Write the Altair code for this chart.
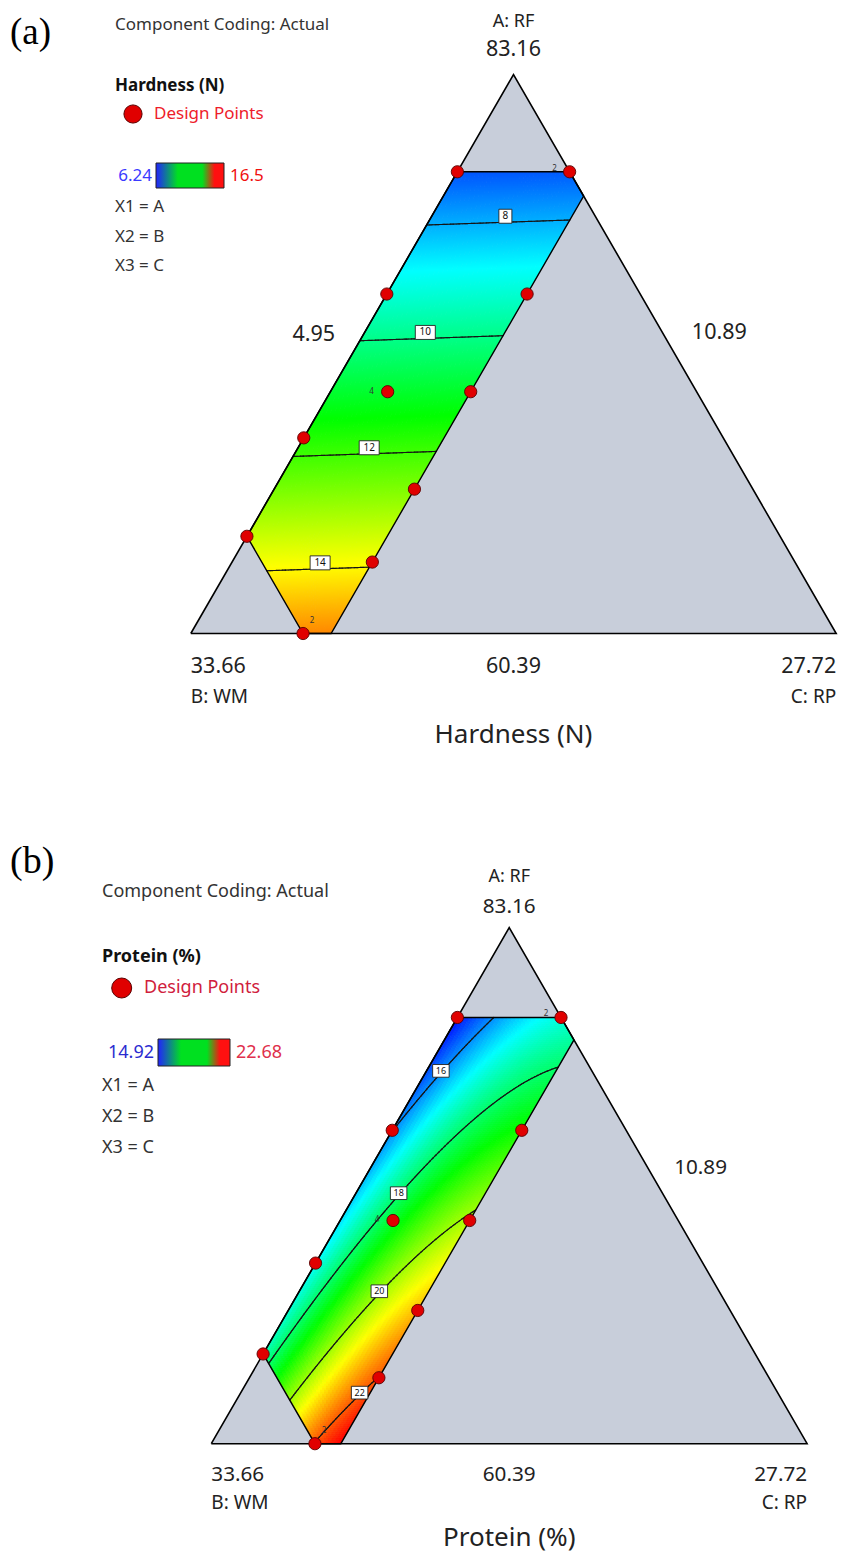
import numpy as np
import pandas as pd
import altair as alt

# ------------------------------------------------------------------
# Mixture design: actual amounts, total = 99
TOTAL = 99.0
LOW = [60.39, 10.89, 4.95]      # A: RF, B: WM, C: RP lower bounds (triangle edges)
HIGH = [79.20, 29.70, 9.90]     # upper bounds of the constrained region
APEX_VALUES = ["83.16", "33.66", "27.72"]
EDGE_VALUES = ["4.95", "10.89", "60.39"]
COMPONENTS = ["A: RF", "B: WM", "C: RP"]

# design points (actual amounts) and replicate counts
pt_A = [79.20, 79.20, 74.22, 74.22, 70.24, 70.24, 68.36, 66.27, 64.35, 63.30, 60.39]
pt_B = [14.85, 10.89, 19.83, 14.88, 21.79, 18.86, 25.69, 22.83, 29.70, 25.80, 29.70]
pt_C = [4.95, 8.91, 4.95, 9.90, 6.97, 9.90, 4.95, 9.90, 4.95, 9.90, 8.91]
pt_reps = [1, 2, 1, 1, 4, 1, 1, 1, 1, 1, 2]

# fitted Scheffe models (pseudo components): A, B, C, AB, AC, BC
hard_coef = [5.40, 15.06, 15.46, 0.0, 0.0, 0.0]
prot_coef = [14.12, 17.85, 10.16, 1.63, 25.46, 38.51]
hard_levels = [8, 10, 12, 14]
prot_levels = [16, 18, 20, 22]
hard_range = [6.24, 16.5]
prot_range = [14.92, 22.68]
# approximate contour-label spots (ternary plane: X across, a up)
hard_lab_X = [0.487, 0.363, 0.276, 0.200]
hard_lab_a = [0.750, 0.539, 0.334, 0.128]
prot_lab_X = [0.378, 0.306, 0.273, 0.249]
prot_lab_a = [0.726, 0.490, 0.301, 0.095]

# ------------------------------------------------------------------
R = TOTAL - sum(LOW)
amax = (HIGH[0] - LOW[0]) / R
bmax = (HIGH[1] - LOW[1]) / R
cmax = (HIGH[2] - LOW[2]) / R

FONT = "Noto Sans"
W = 835
ONE = pd.DataFrame({"k": [0]})
JET = ["#0000ff", "#00ffff", "#00ff00", "#ffff00", "#ff0000"]
GREY = "#c8ceda"


def model(coef, a, b, c):
    return (coef[0] * a + coef[1] * b + coef[2] * c
            + coef[3] * a * b + coef[4] * a * c + coef[5] * b * c)


def f_Xa(coef, X, a):
    c = X - a / 2.0
    return model(coef, a, 1 - a - c, c)


def gfuncs(X, a):
    c = X - a / 2.0
    return [amax - a, a, c, cmax - c, 1 - a - c, a + c - (1 - bmax)]


def clip(p, q):
    gp = gfuncs(*p)
    gq = gfuncs(*q)
    t0, t1 = 0.0, 1.0
    for u, v in zip(gp, gq):
        if u < 0 and v < 0:
            return None
        if u < 0:
            t0 = max(t0, u / (u - v))
        elif v < 0:
            t1 = min(t1, u / (u - v))
    if t0 >= t1:
        return None
    p = np.array(p); q = np.array(q)
    return p + t0 * (q - p), p + t1 * (q - p)


def heat_cells(coef, s, field):
    h = s * np.sqrt(3) / 2
    da, dX = 2.0 / h, 4.0 / s
    ox, oa = 0.6 / s, 0.6 / h
    n = int(np.ceil(amax / da - 1e-9))
    cols = {"X": [], "X2": [], "Y": [], "Y2": [], field: []}
    for i in range(n):
        a0 = i * da
        a1 = min(amax, a0 + da)
        am = 0.5 * (a0 + a1)
        clo = max(0.0, 1 - bmax - am)
        chi = min(cmax, 1 - am)
        X0, X1 = clo + am / 2, chi + am / 2
        m = max(1, int(np.ceil((X1 - X0) / dX)))
        e = np.linspace(X0, X1, m + 1)
        xm = 0.5 * (e[:-1] + e[1:])
        vals = f_Xa(coef, xm, np.full(m, am))
        x2 = e[1:] + ox
        x2[-1] = e[-1]
        y2 = a1 + oa if i < n - 1 else a1
        cols["X"] += list(np.round(e[:-1], 5))
        cols["X2"] += list(np.round(x2, 5))
        cols["Y"] += [round(a0, 5)] * m
        cols["Y2"] += [round(y2, 5)] * m
        cols[field] += list(np.round(vals, 4))
    return pd.DataFrame(cols)


def contour_segments(coef, levels, s):
    h = s * np.sqrt(3) / 2
    step = 1.5
    Xs = np.arange(0.04, 0.66, step / s)
    As = np.arange(-0.01, amax + 0.012, step / h)
    XX, AA = np.meshgrid(Xs, As)
    F = f_Xa(coef, XX, AA)
    rows = []
    for lv in levels:
        G = F - lv
        c4 = [G[:-1, :-1], G[:-1, 1:], G[1:, 1:], G[1:, :-1]]
        mn = np.minimum.reduce(c4)
        mx = np.maximum.reduce(c4)
        for i, j in np.argwhere((mn < 0) & (mx > 0)):
            corners = [(Xs[j], As[i], G[i, j]), (Xs[j + 1], As[i], G[i, j + 1]),
                       (Xs[j + 1], As[i + 1], G[i + 1, j + 1]), (Xs[j], As[i + 1], G[i + 1, j])]
            pts = []
            for k in range(4):
                x0, y0, g0 = corners[k]
                x1, y1, g1 = corners[(k + 1) % 4]
                if (g0 < 0) != (g1 < 0):
                    t = g0 / (g0 - g1)
                    pts.append((x0 + t * (x1 - x0), y0 + t * (y1 - y0)))
            for m in range(0, len(pts) - 1, 2):
                seg = clip(pts[m], pts[m + 1])
                if seg is not None:
                    (p0, p1) = seg
                    rows.append((p0[0], p0[1], p1[0], p1[1]))
    return pd.DataFrame(rows, columns=["X", "Y", "X2", "Y2"])


def on_contour(coef, lv, X, a, s):
    h = s * np.sqrt(3) / 2
    for _ in range(40):
        f = f_Xa(coef, X, a) - lv
        e = 1e-5
        gX = (f_Xa(coef, X + e, a) - f_Xa(coef, X - e, a)) / (2 * e) / s
        ga = (f_Xa(coef, X, a + e) - f_Xa(coef, X, a - e)) / (2 * e) / h
        g2 = gX * gX + ga * ga
        X -= f * gX / g2 / s
        a -= f * ga / g2 / h
    return X, a


def build_panel(p):
    s = p["side"]
    h = s * np.sqrt(3) / 2
    oy = p["oy"]
    blx = p["blx"] - 8
    bly = p["bly"] - oy
    Hh = p["height"]
    xsc = alt.Scale(domain=[-blx / s, (W - blx) / s], nice=False, zero=False)
    ysc = alt.Scale(domain=[(bly - Hh) / h, bly / h], nice=False, zero=False)

    def ex(f):
        return alt.X(f, type="quantitative", scale=xsc, axis=None)

    def ey(f):
        return alt.Y(f, type="quantitative", scale=ysc, axis=None)

    coef, field = p["coef"], p["field"]
    lo, hi = p["rng"]
    cscale = alt.Scale(domain=list(np.linspace(lo, hi, 5)), range=JET, interpolate="rgb")
    layers = []

    tri = pd.DataFrame({"X": [0, 0.5, 1], "Y": [0, 1, 0], "Y0": [0, 0, 0]})
    layers.append(alt.Chart(tri).mark_area(color=GREY).encode(x=ex("X"), y=ey("Y"), y2="Y0"))

    cells = heat_cells(coef, s, field)
    layers.append(alt.Chart(cells).mark_rect().encode(
        x=ex("X"), x2="X2", y=ey("Y"), y2="Y2",
        color=alt.Color(field, type="quantitative", scale=cscale, legend=None)))

    segs = contour_segments(coef, p["levels"], s).round(5)
    layers.append(alt.Chart(segs).mark_rule(color="#151515", strokeWidth=1.15, strokeCap="round").encode(
        x=ex("X"), y=ey("Y"), x2="X2", y2="Y2"))

    va = [amax, amax, 1 - cmax, 0, 0, 1 - bmax, amax]
    vc = [0, 1 - amax, cmax, cmax, 1 - bmax, 0, 0]
    reg = pd.DataFrame({"X": [c + a / 2 for a, c in zip(va, vc)], "Y": va, "i": range(7)})
    layers.append(alt.Chart(reg).mark_line(color="black", strokeWidth=1.4).encode(
        x=ex("X"), y=ey("Y"), order="i:Q"))

    tro = pd.DataFrame({"X": [0, 0.5, 1, 0], "Y": [0, 1, 0, 0], "i": range(4)})
    layers.append(alt.Chart(tro).mark_line(color="black", strokeWidth=1.6).encode(
        x=ex("X"), y=ey("Y"), order="i:Q"))

    # contour labels
    B = p["box"]
    bx = {"X": [], "X2": [], "Y": [], "Y2": [], "Xc": [], "Yc": [], "lab": []}
    for lv, X0, a0 in zip(p["levels"], p["lab_X"], p["lab_a"]):
        Xc, ac = on_contour(coef, lv, X0, a0, s)
        ac += B["lift"] / h
        wpx = B["w0"] + B["wc"] * len(str(lv))
        bx["X"].append(Xc - wpx / 2 / s); bx["X2"].append(Xc + wpx / 2 / s)
        bx["Y"].append(ac - B["h"] / 2 / h); bx["Y2"].append(ac + B["h"] / 2 / h)
        bx["Xc"].append(Xc); bx["Yc"].append(ac); bx["lab"].append(str(lv))
    bx = pd.DataFrame(bx)
    layers.append(alt.Chart(bx).mark_rect(fill="white", stroke="#222", strokeWidth=0.9).encode(
        x=ex("X"), x2="X2", y=ey("Y"), y2="Y2"))
    layers.append(alt.Chart(bx).mark_text(font=FONT, fontSize=B["fs"], color="#111", baseline="middle").encode(
        x=ex("Xc"), y=ey("Yc"), text="lab:N"))

    # design points
    pa = [(A - LOW[0]) / R for A in pt_A]
    pc = [(C - LOW[2]) / R for C in pt_C]
    dp = pd.DataFrame({"X": [c + a / 2 for a, c in zip(pa, pc)], "Y": pa,
                       "reps": pt_reps, "idx": range(len(pt_A))})
    layers.append(alt.Chart(dp).mark_point(shape="circle", filled=True, color="#e00000", stroke="#5a0000",
                                           strokeWidth=0.9, size=150, opacity=1).encode(x=ex("X"), y=ey("Y")))
    for idx, dx, dy in [(1, -15, -3), (4, -16, 0), (10, 9, -13)]:
        layers.append(alt.Chart(dp[dp.idx == idx]).mark_text(
            font=FONT, fontSize=8, color="#333", dx=dx, dy=dy, baseline="middle").encode(
            x=ex("X"), y=ey("Y"), text="reps:N"))

    def dtext(txt, Xv, Yv, dx, dy, size, align="center"):
        return alt.Chart(pd.DataFrame({"X": [Xv], "Y": [Yv]})).mark_text(
            text=txt, dx=dx, dy=dy, fontSize=size, align=align, baseline="middle",
            font=FONT, color="#222").encode(x=ex("X"), y=ey("Y"))

    t = p["txt"]
    nf = t["nfs"]
    layers += [
        dtext(COMPONENTS[0], 0.5, 1, 0, t["comp_top"], 18),
        dtext(APEX_VALUES[0], 0.5, 1, 0, t["num_top"], nf),
        dtext(APEX_VALUES[1], 0, 0, 0, t["num_bot"], nf, "left"),
        dtext(COMPONENTS[1], 0, 0, 0, t["comp_bot"], 19, "left"),
        dtext(EDGE_VALUES[2], 0.5, 0, 0, t["num_bot"], nf),
        dtext(APEX_VALUES[2], 1, 0, 0, t["num_bot"], nf, "right"),
        dtext(COMPONENTS[2], 1, 0, 0, t["comp_bot"], 19, "right"),
        dtext(p["title"], 0.5, 0, 0, t["title"], 26),
        dtext(EDGE_VALUES[1], 0.75, 0.5, t["right_dx"], t["right_dy"], nf, "left"),
    ]
    if t.get("left_dx") is not None:
        layers.append(dtext(EDGE_VALUES[0], 0.25, 0.5, t["left_dx"], t["left_dy"], nf, "right"))

    # legend block (page coordinates)
    def ptext(txt, xp, yp, size, align="left", color="#333", weight="normal", font=FONT):
        return alt.Chart(ONE).mark_text(text=txt, fontSize=size, align=align, baseline="middle",
                                        color=color, fontWeight=weight, font=font).encode(
            x=alt.value(xp - 8), y=alt.value(yp - oy))

    L = p["leg"]
    fs = L["fs"]
    layers += [
        ptext(p["letter"], 10, L["letter_y"], L["letter_fs"], color="black", font="Liberation Serif"),
        ptext("Component Coding: Actual", L["x"], L["cc_y"], fs),
        ptext(p["title"], L["x"], L["t_y"], fs, color="#111", weight="bold"),
        alt.Chart(ONE).mark_point(shape="circle", filled=True, color="#e00000", stroke="#5a0000",
                                  strokeWidth=1, size=L["csize"], opacity=1).encode(
            x=alt.value(L["cx"] - 8), y=alt.value(L["dp_y"] - oy)),
        ptext("Design Points", L["dx"], L["dp_y"], fs, color=L["dpc"]),
        alt.Chart(ONE).mark_rect(
            fill=alt.Gradient(gradient="linear", x1=0, x2=1, y1=0, y2=0, stops=[
                alt.GradientStop(offset=0.0, color="#2222ff"),
                alt.GradientStop(offset=0.32, color="#00e020"),
                alt.GradientStop(offset=0.68, color="#00e020"),
                alt.GradientStop(offset=0.86, color="#ff1010"),
                alt.GradientStop(offset=1.0, color="#ff1010")]),
            stroke="#222", strokeWidth=1).encode(
            x=alt.value(L["gx0"] - 8), x2=alt.value(L["gx1"] - 8),
            y=alt.value(L["gy0"] - oy), y2=alt.value(L["gy1"] - oy)),
        ptext(f"{lo:g}", L["gx0"] - 4, (L["gy0"] + L["gy1"]) / 2, fs, align="right", color=L["loc"]),
        ptext(f"{hi:g}", L["gx1"] + 6, (L["gy0"] + L["gy1"]) / 2, fs, color=L["hic"]),
        ptext("X1 = A", L["x"], L["x1"], fs),
        ptext("X2 = B", L["x"], L["x1"] + L["xs"], fs),
        ptext("X3 = C", L["x"], L["x1"] + 2 * L["xs"], fs),
    ]
    return alt.layer(*layers).properties(width=W, height=Hh)


panel_a = dict(
    side=645.4, blx=190.8, bly=633.5, oy=8, height=775,
    coef=hard_coef, levels=hard_levels, rng=hard_range, field="hardness",
    lab_X=hard_lab_X, lab_a=hard_lab_a, letter="(a)", title="Hardness (N)",
    box=dict(w0=6, wc=7, h=14, fs=10, lift=6),
    txt=dict(nfs=21.5, comp_top=-52.5, num_top=-24.5, num_bot=33, comp_bot=63, title=101.5,
             right_dx=17, right_dy=-21, left_dx=-17, left_dy=-19),
    leg=dict(fs=17, x=115, letter_y=33, letter_fs=37, cc_y=25, t_y=86, cx=133, dp_y=114, csize=330,
             dx=154, dpc="#ee1c2a", gx0=156, gx1=224, gy0=163, gy1=188,
             loc="#3a3aff", hic="#f01010", x1=207, xs=29.5),
)
panel_b = dict(
    side=595.8, blx=211.3, bly=1443.7, oy=783, height=772,
    coef=prot_coef, levels=prot_levels, rng=prot_range, field="protein",
    lab_X=prot_lab_X, lab_a=prot_lab_a, letter="(b)", title="Protein (%)",
    box=dict(w0=4.5, wc=6, h=12.7, fs=9, lift=2),
    txt=dict(nfs=20.7, comp_top=-50.7, num_top=-21, num_bot=31.3, comp_bot=59.3, title=94.3,
             right_dx=16, right_dy=-18, left_dx=None),
    leg=dict(fs=18, x=102, letter_y=862, letter_fs=38, cc_y=892, t_y=957, cx=121.7, dp_y=988, csize=400,
             dx=144, dpc="#d0203c", gx0=158, gx1=230, gy0=1039, gy1=1066,
             loc="#2b2bd0", hic="#e0304c", x1=1086, xs=31),
)

chart = alt.vconcat(build_panel(panel_a), build_panel(panel_b), spacing=0).resolve_scale(
    color="independent", x="independent", y="independent").properties(
    padding=0, bounds="flush").configure_view(stroke=None)

chart.save("out.html", embed_options={"renderer": "svg", "actions": False})
